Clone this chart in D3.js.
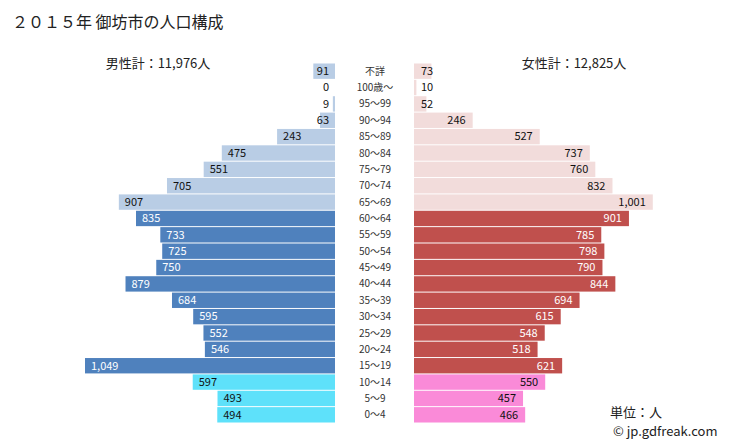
<!DOCTYPE html>
<html><head><meta charset="utf-8">
<script src="https://cdn.jsdelivr.net/npm/d3@7"></script>
<style>
body{margin:0;background:#fff;}
svg text{font-family:"Noto Sans CJK JP","Noto Sans",sans-serif;}
</style>
</head><body>
<svg id="c" width="729" height="445"></svg>
<script>
const ages = ["不詳","100歳～","95～99","90～94","85～89","80～84","75～79","70～74","65～69","60～64","55～59","50～54","45～49","40～44","35～39","30～34","25～29","20～24","15～19","10～14","5～9","0～4"];
const male = [91,0,9,63,243,475,551,705,907,835,733,725,750,879,684,595,552,546,1049,597,493,494];
const female = [73,10,52,246,527,737,760,832,1001,901,785,798,790,844,694,615,548,518,621,550,457,466];
const groups = ["old","old","old","old","old","old","old","old","old","work","work","work","work","work","work","work","work","work","work","young","young","young"];
const maleTotal = "男性計：11,976人";
const femaleTotal = "女性計：12,825人";
const title = "２０１５年 御坊市の人口構成";

const maleColor = {old:"#b9cde5", work:"#4f81bd", young:"#5ee1fa"};
const femaleColor = {old:"#f2dcdb", work:"#c0504d", young:"#fa8ad8"};
const labelColor = {old:"#111", work:"#fff", young:"#111"};

const svg = d3.select("#c");
const y = d3.scaleBand().domain(ages).range([63, 423]).paddingInner(0.06).paddingOuter(0.03);
const mx = d3.scaleLinear().domain([0, 1049]).range([335, 85]);
const fx = d3.scaleLinear().domain([0, 1001]).range([414, 652.8]);

svg.append("text").attr("x", 12).attr("y", 28).attr("font-size", 16).attr("fill", "#222").text(title);
svg.append("text").attr("x", 158).attr("y", 63).attr("dy", "0.35em").attr("text-anchor", "middle").attr("font-size", 13).attr("fill", "#222").text(maleTotal);
svg.append("text").attr("x", 574).attr("y", 63).attr("dy", "0.35em").attr("text-anchor", "middle").attr("font-size", 13).attr("fill", "#222").text(femaleTotal);

const rows = ages.map((a, i) => ({age: a, m: male[i], f: female[i], g: groups[i]}));

svg.append("g").selectAll("rect").data(rows).join("rect")
  .attr("x", d => mx(d.m)).attr("y", d => y(d.age))
  .attr("width", d => mx(0) - mx(d.m)).attr("height", y.bandwidth())
  .attr("fill", d => maleColor[d.g]);
svg.append("g").selectAll("rect").data(rows).join("rect")
  .attr("x", fx(0)).attr("y", d => y(d.age))
  .attr("width", d => fx(d.f) - fx(0)).attr("height", y.bandwidth())
  .attr("fill", d => femaleColor[d.g]);

const fmt = d3.format(",");
const ml = svg.append("g").selectAll("text").data(rows).join("text")
  .attr("y", d => y(d.age) + y.bandwidth()/2).attr("dy", "0.35em")
  .attr("font-size", 11).attr("fill", d => labelColor[d.g])
  .text(d => fmt(d.m));
ml.each(function(d){
  const w = this.getComputedTextLength();
  d3.select(this).attr("x", Math.min(mx(d.m) + 6, mx(0) - w - 6));
});
const fl = svg.append("g").selectAll("text").data(rows).join("text")
  .attr("y", d => y(d.age) + y.bandwidth()/2).attr("dy", "0.35em")
  .attr("font-size", 11).attr("fill", d => labelColor[d.g])
  .text(d => fmt(d.f));
fl.each(function(d){
  const w = this.getComputedTextLength();
  d3.select(this).attr("x", Math.max(fx(d.f) - 7 - w, fx(0) + 7));
});
svg.append("g").selectAll("text").data(rows).join("text")
  .attr("x", 375).attr("y", d => y(d.age) + y.bandwidth()/2).attr("dy", "0.35em")
  .attr("text-anchor", "middle").attr("font-size", 10).attr("fill", "#333")
  .text(d => d.age);

svg.append("text").attr("x", 610).attr("y", 412).attr("dy", "0.35em").attr("font-size", 13).attr("fill", "#222").text("単位：人");
svg.append("text").attr("x", 613).attr("y", 431).attr("dy", "0.35em").attr("font-size", 13).attr("fill", "#222").text("© jp.gdfreak.com");
</script>
</body></html>
